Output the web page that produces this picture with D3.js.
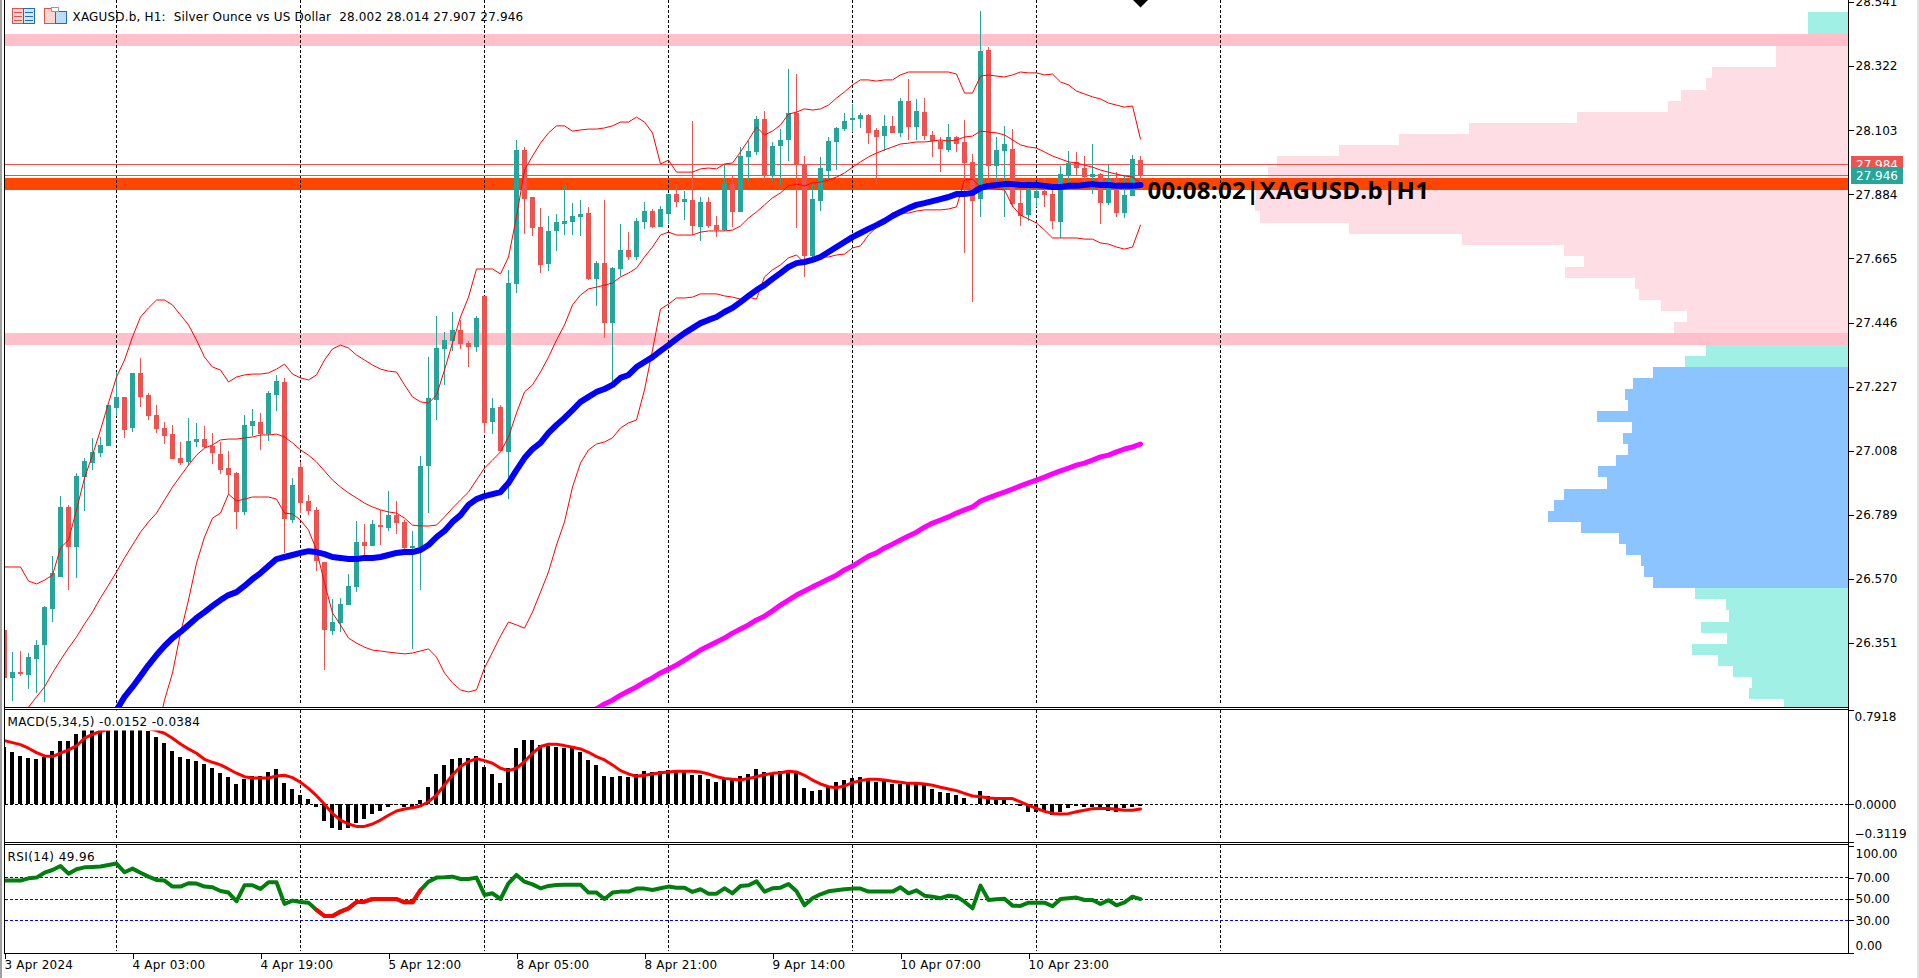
<!DOCTYPE html>
<html>
<head>
<meta charset="utf-8">
<script src="https://cdn.jsdelivr.net/npm/d3@7"></script>
<style>
  html, body { margin: 0; padding: 0; background: #fff; overflow: hidden; }
  svg { display: block; }
  text { font-family: "DejaVu Sans", sans-serif; font-size: 12px; fill: #000; }
  .axis path { display: none; }
  .axis line { stroke: #000; shape-rendering: crispEdges; }
</style>
</head>
<body>
<div id="chart"></div>
<script>
// candles, one entry per hour
const opens = [26.396,26.232,26.252,26.242,26.296,26.344,26.467,26.577,26.816,26.679,
  26.918,26.966,27.000,27.024,27.154,27.192,27.086,27.274,27.199,27.130,
  27.086,27.065,26.983,26.970,27.038,27.048,27.024,26.997,26.949,26.932,
  26.799,27.093,27.106,27.065,27.199,27.243,26.771,26.952,26.836,26.806,
  26.628,26.392,26.419,26.481,26.543,26.696,26.682,26.754,26.744,26.788,
  26.765,26.676,26.679,26.956,27.181,27.356,27.383,27.421,27.376,27.362,
  27.537,27.106,27.158,27.004,27.578,28.036,27.875,27.772,27.646,27.759,
  27.783,27.790,27.807,27.820,27.595,27.649,27.444,27.629,27.694,27.670,
  27.790,27.827,27.772,27.817,27.885,27.858,27.865,27.772,27.858,27.779,
  27.762,27.919,27.824,28.012,28.029,28.141,27.950,28.049,28.070,28.162,
  27.988,27.673,27.861,27.964,28.063,28.107,28.138,28.141,28.155,28.104,
  28.083,28.118,28.094,28.203,28.114,28.165,28.087,28.066,28.036,28.080,
  28.063,27.995,27.868,28.377,27.981,28.032,28.039,27.854,27.813,27.871,
  27.895,27.885,27.790,27.947,27.995,27.974,27.943,27.953,27.854,27.936,
  27.820,27.878,28.002];
const highs = [26.396,26.320,26.324,26.317,26.361,26.478,26.648,26.853,26.823,26.932,
  26.983,27.052,27.055,27.164,27.277,27.192,27.274,27.325,27.206,27.164,
  27.106,27.096,27.038,27.120,27.103,27.093,27.069,27.038,27.007,26.935,
  27.130,27.151,27.137,27.212,27.267,27.257,26.915,26.970,26.857,26.816,
  26.628,26.501,26.505,26.587,26.768,26.758,26.771,26.806,26.870,26.836,
  26.771,26.734,26.990,27.328,27.469,27.414,27.482,27.455,27.383,27.468,
  27.537,27.188,27.164,27.626,28.070,28.046,27.875,27.837,27.810,27.817,
  27.916,27.854,27.865,27.841,27.656,27.865,27.636,27.783,27.755,27.803,
  27.858,27.834,27.844,27.885,27.919,27.895,28.135,27.875,27.875,27.810,
  27.984,27.947,28.046,28.066,28.152,28.169,28.063,28.107,28.312,28.295,
  28.015,27.923,28.012,28.080,28.114,28.162,28.193,28.162,28.158,28.111,
  28.155,28.152,28.213,28.278,28.210,28.213,28.100,28.080,28.124,28.083,
  28.138,28.022,28.510,28.387,28.080,28.118,28.107,27.899,27.919,27.919,
  27.940,27.916,27.981,28.032,28.029,28.015,28.056,27.957,27.984,27.960,
  27.947,28.018,28.014];
const lows = [26.232,26.153,26.238,26.194,26.180,26.150,26.423,26.577,26.532,26.573,
  26.802,26.942,26.987,27.024,27.127,27.052,27.072,27.158,27.113,27.069,
  27.031,26.980,26.959,26.956,27.021,27.017,26.963,26.929,26.860,26.741,
  26.788,27.058,27.011,27.041,27.144,26.659,26.761,26.795,26.788,26.597,
  26.259,26.378,26.389,26.481,26.526,26.648,26.682,26.686,26.734,26.724,
  26.666,26.331,26.532,26.795,27.113,27.233,27.349,27.356,27.294,27.345,
  27.069,27.065,27.007,26.843,27.547,27.749,27.742,27.615,27.622,27.690,
  27.745,27.745,27.742,27.591,27.503,27.393,27.240,27.605,27.660,27.660,
  27.766,27.769,27.772,27.783,27.841,27.796,27.745,27.725,27.769,27.738,
  27.759,27.772,27.824,27.926,28.018,27.930,27.930,27.916,27.998,27.769,
  27.602,27.667,27.827,27.933,27.967,28.100,28.097,28.111,28.056,27.919,
  28.032,28.094,28.080,28.070,28.070,28.070,28.012,27.960,28.029,28.029,
  27.684,27.516,27.807,27.916,27.919,27.807,27.841,27.776,27.793,27.841,
  27.841,27.766,27.735,27.919,27.950,27.926,27.885,27.783,27.848,27.807,
  27.803,27.878,27.907];
const closes = [26.232,26.252,26.245,26.303,26.344,26.474,26.590,26.816,26.679,26.922,
  26.973,27.004,27.028,27.164,27.192,27.079,27.274,27.192,27.127,27.082,
  27.058,26.980,26.966,27.041,27.048,27.021,27.000,26.942,26.925,26.799,
  27.096,27.110,27.065,27.206,27.246,26.775,26.891,26.829,26.802,26.631,
  26.396,26.423,26.484,26.546,26.696,26.682,26.758,26.747,26.788,26.761,
  26.676,26.682,26.956,27.188,27.359,27.386,27.421,27.373,27.362,27.462,
  27.103,27.154,27.007,27.581,28.036,27.868,27.769,27.643,27.759,27.790,
  27.793,27.810,27.817,27.595,27.649,27.444,27.632,27.694,27.670,27.793,
  27.827,27.772,27.834,27.885,27.858,27.868,27.776,27.858,27.776,27.762,
  27.919,27.824,28.015,28.032,28.141,27.950,28.049,28.070,28.162,27.988,
  27.673,27.868,27.974,28.066,28.111,28.135,28.145,28.155,28.094,28.080,
  28.118,28.094,28.203,28.114,28.169,28.083,28.066,28.039,28.080,28.056,
  27.991,27.861,28.374,27.981,28.036,28.056,27.851,27.810,27.902,27.895,
  27.882,27.793,27.953,27.991,27.974,27.943,27.953,27.854,27.933,27.820,
  27.882,28.005,27.946];

// bollinger bands, the first value of each belongs to the bar in *Start
const bbUpper = [26.611,26.611,26.611,26.563,26.553,26.566,26.583,26.676,26.703,26.806,
  26.915,26.993,27.079,27.171,27.260,27.318,27.397,27.465,27.496,27.523,
  27.523,27.506,27.472,27.438,27.386,27.328,27.294,27.284,27.243,27.260,
  27.267,27.270,27.270,27.274,27.287,27.304,27.270,27.257,27.250,27.267,
  27.318,27.356,27.369,27.359,27.335,27.318,27.301,27.287,27.280,27.277,
  27.233,27.192,27.175,27.171,27.198,27.284,27.376,27.465,27.533,27.629,
  27.629,27.629,27.612,27.670,27.807,27.967,28.015,28.059,28.094,28.118,
  28.118,28.100,28.104,28.107,28.107,28.111,28.118,28.131,28.131,28.148,
  28.131,28.094,27.988,28.001,27.960,27.960,27.960,27.971,27.974,27.971,
  27.988,27.991,28.029,28.070,28.114,28.087,28.100,28.121,28.158,28.165,
  28.176,28.172,28.176,28.189,28.213,28.234,28.258,28.275,28.275,28.271,
  28.275,28.275,28.292,28.302,28.302,28.302,28.302,28.302,28.302,28.295,
  28.230,28.230,28.288,28.292,28.288,28.285,28.292,28.302,28.299,28.299,
  28.292,28.295,28.268,28.258,28.237,28.227,28.217,28.210,28.196,28.189,
  28.182,28.186,28.073];
const bbMidStart = 2;
const bbMid = [26.088,26.132,26.167,26.201,26.249,26.293,26.334,26.372,
  26.416,26.457,26.505,26.549,26.594,26.642,26.686,26.730,26.765,26.795,
  26.840,26.884,26.922,26.959,26.993,27.017,27.028,27.045,27.048,27.048,
  27.052,27.055,27.062,27.062,27.065,27.055,27.035,27.011,26.993,26.970,
  26.939,26.908,26.884,26.864,26.847,26.829,26.816,26.806,26.799,26.795,
  26.778,26.754,26.751,26.751,26.754,26.782,26.812,26.840,26.867,26.908,
  26.949,26.976,27.004,27.055,27.137,27.209,27.233,27.277,27.328,27.386,
  27.438,27.506,27.540,27.561,27.567,27.574,27.581,27.602,27.615,27.632,
  27.670,27.704,27.745,27.755,27.745,27.745,27.745,27.755,27.759,27.759,
  27.759,27.762,27.776,27.803,27.824,27.848,27.872,27.889,27.913,27.919,
  27.913,27.923,27.926,27.933,27.943,27.957,27.977,27.995,28.012,28.025,
  28.036,28.046,28.056,28.059,28.063,28.063,28.066,28.070,28.066,28.070,
  28.080,28.083,28.100,28.097,28.094,28.087,28.070,28.053,28.046,28.042,
  28.029,28.015,28.005,27.995,27.991,27.984,27.977,27.967,27.960,27.953,
  27.947,27.943,27.923];
const bbLowerStart = 19;
const bbLower = [26.037,
  26.156,26.249,26.385,26.498,26.624,26.713,26.778,26.795,26.860,26.836,
  26.843,26.850,26.850,26.850,26.843,26.795,26.792,26.771,26.737,26.669,
  26.556,26.454,26.413,26.368,26.351,26.337,26.327,26.324,26.320,26.317,
  26.314,26.317,26.324,26.331,26.303,26.249,26.215,26.191,26.184,26.191,
  26.266,26.320,26.375,26.423,26.413,26.402,26.457,26.525,26.594,26.686,
  26.765,26.884,26.966,27.011,27.031,27.038,27.052,27.086,27.103,27.113,
  27.216,27.352,27.492,27.509,27.530,27.530,27.533,27.544,27.544,27.544,
  27.537,27.533,27.526,27.533,27.526,27.602,27.626,27.643,27.667,27.677,
  27.649,27.660,27.670,27.670,27.677,27.680,27.701,27.708,27.745,27.772,
  27.796,27.820,27.820,27.820,27.827,27.831,27.831,27.831,27.834,27.841,
  27.933,27.936,27.909,27.906,27.902,27.899,27.844,27.813,27.800,27.786,
  27.762,27.735,27.735,27.735,27.735,27.731,27.731,27.718,27.714,27.704,
  27.697,27.704,27.779];

// fast average (blue) and slow average (magenta)
const fastMaStart = 13;
const fastMa = [26.074,26.122,26.167,26.201,26.238,26.276,26.310,
  26.341,26.368,26.389,26.413,26.437,26.457,26.478,26.498,26.515,26.525,
  26.546,26.570,26.590,26.614,26.638,26.645,26.652,26.659,26.665,26.662,
  26.655,26.645,26.642,26.638,26.638,26.642,26.642,26.645,26.652,26.659,
  26.662,26.662,26.669,26.686,26.713,26.734,26.765,26.788,26.823,26.843,
  26.853,26.860,26.867,26.898,26.942,26.983,27.014,27.035,27.069,27.096,
  27.120,27.147,27.175,27.192,27.209,27.219,27.233,27.257,27.267,27.294,
  27.311,27.328,27.349,27.369,27.390,27.410,27.427,27.444,27.455,27.465,
  27.482,27.496,27.516,27.537,27.557,27.574,27.595,27.615,27.636,27.649,
  27.653,27.660,27.670,27.687,27.704,27.721,27.738,27.752,27.766,27.779,
  27.793,27.810,27.824,27.837,27.848,27.854,27.861,27.868,27.875,27.885,
  27.885,27.889,27.906,27.913,27.916,27.919,27.919,27.916,27.916,27.916,
  27.913,27.909,27.909,27.913,27.913,27.916,27.919,27.916,27.916,27.913,
  27.913,27.913,27.916];
const slowMaStart = 74;
const slowMa = [26.126,26.143,26.156,26.173,26.187,26.201,
  26.218,26.232,26.249,26.262,26.276,26.293,26.310,26.327,26.341,26.355,
  26.368,26.385,26.399,26.413,26.430,26.443,26.461,26.481,26.498,26.515,
  26.529,26.543,26.556,26.570,26.583,26.601,26.614,26.631,26.648,26.659,
  26.676,26.689,26.703,26.717,26.730,26.747,26.761,26.771,26.782,26.795,
  26.806,26.816,26.836,26.847,26.857,26.867,26.877,26.888,26.898,26.908,
  26.918,26.929,26.939,26.949,26.959,26.966,26.976,26.987,26.993,27.004,
  27.014,27.021,27.031];

// macd pane
const macdHist = [.485,.443,.406,.389,.384,.40,.448,.532,.532,.591,
  .63,.65,.66,.67,.67,.67,.66,.65,.616,.569,
  .518,.448,.40,.384,.364,.342,.305,.266,.23,.171,
  .21,.238,.238,.272,.297,.182,.129,.078,.045,-.025,
  -.137,-.196,-.216,-.202,-.16,-.12,-.081,-.056,-.02,-.008,
  -.025,-.034,.036,.146,.255,.33,.381,.389,.387,.406,
  .314,.255,.182,.305,.473,.541,.541,.501,.49,.482,
  .476,.471,.443,.373,.33,
  .238,.23,.238,.232,.255,.28,.272,.28,.286,.286,
  .28,.246,.246,.213,.188,.213,.213,.238,.255,.297,
  .272,.266,.28,.28,.26,.137,.115,.12,.154,.188,
  .204,.221,.23,.21,.188,.196,.171,.171,.171,.171,
  .162,.129,.104,.095,.078,.053,.003,.112,.07,.053,
  .045,.003,-.014,-.064,-.064,-.064,-.09,-.064,-.034,-.014,
  -.02,-.02,-.025,-.053,-.062,-.034,-.025,-.0152];
const macdSignal = [.535,.518,.501,.471,.434,.406,.401,.429,.457,.49,
  .555,.588,.611,.63,.647,.653,.653,.644,.636,.619,
  .597,.555,.507,.465,.429,.378,.353,.331,.297,.261,
  .232,.221,.221,.221,.238,.244,.224,.185,.134,.073,
  0,-.076,-.132,-.165,-.185,-.185,-.165,-.132,-.092,-.056,
  -.039,-.028,-.014,.022,.078,.162,.246,.317,.359,.384,
  .367,.345,.303,.283,.303,.359,.429,.485,.504,.504,
  .493,.479,.465,.437,.401,
  .373,.331,.283,.255,.235,.244,.255,.266,.272,.277,
  .277,.277,.272,.255,.232,.218,.21,.204,.218,.232,
  .249,.26,.266,.277,.272,.244,.204,.171,.148,.14,
  .154,.182,.199,.21,.21,.204,.193,.185,.176,.176,
  .171,.16,.143,.129,.115,.092,.07,.064,.053,.05,
  .048,.048,.02,-.008,-.034,-.059,-.076,-.081,-.078,-.062,
  -.05,-.036,-.034,-.034,-.042,-.05,-.05,-.0384];

// rsi pane, bars rsiRedFrom to rsiRedTo are drawn red
const rsiValues = [67.2,67.2,67.2,69.3,70,74.6,77.1,80.9,73.7,77.8,
  79.6,79.9,80.3,81.8,83.1,75,78.4,74.6,70.9,67.8,
  67.2,61.6,61.6,64.7,64.4,61.6,61,57.5,56,47.9,
  62.8,62.8,59.4,65.6,65.6,45.4,48.5,47.2,46.6,39.8,
  34.1,34.1,38.2,41.3,47.2,47.5,50,50,50,50,
  46.9,46.9,58.4,66.2,70,70.3,70.9,68.7,68.7,70,
  53.8,55.3,50,64.7,72.5,66.2,63.7,60,62.2,63.1,
  63.4,63.4,63.4,56,56,
  50,56,56.9,56.9,59.7,59.7,58.4,60,61.6,60.6,
  60.6,56.6,59.1,55,55,60,55.3,62.2,62.8,66.5,
  56.9,60,60.6,64,57.2,44.1,50.7,54.4,57.2,58.1,
  59.1,59.7,59.7,56.9,56.9,56.9,56.9,60.9,55.3,58.1,
  53.1,52.2,50.7,53.1,52.2,47.5,41.3,62.5,49.1,49.7,
  50.3,43.8,43.5,46.6,46.6,46.6,43.2,50,50.7,51.3,
  49.1,49.1,45.4,48.8,44.1,46.9,52.2,49.96];
const rsiRedFrom = 39;
const rsiRedTo = 52;
const rsiLevels = [70, 50, 30];

// horizontal zones and price lines
const zonePink = [[28.432, 28.391], [27.410, 27.369]];
const zoneOrange = [27.940, 27.899];
const askPrice = 27.984;
const bidPrice = 27.946;
const signalPrice = 28.548;
const signalBar = 142;

// volume profile at the right side, one row per price bin
const profileTop = 28.507;
const profileStep = 0.03786;
const profileVolume = [40,40,40,72,72,136,142,167,180,271,379,449,509,571,580,590,592,593,588,499,
  386,284,264,283,213,209,187,161,174,170,142,163,
  195,215,223,220,251,216,225,220,232,250,241,284,294,300,267,229,222,207,204,195,
  153,122,119,147,121,156,130,115,96,99,64];
const profileKind = ["t","t","t","p","p","p","p","p","p","p","p","p","p","p","p","p","p","p","p","p",
  "p","p","p","p","p","p","p","p","p","p","t","t",
  "b","b","b","b","b","b","b","b","b","b","b","b","b","b","b","b","b","b","b","b",
  "t","t","t","t","t","t","t","t","t","t","t"];

// axes
const priceTicks = [28.541,28.322,28.103,27.884,27.665,27.446,27.227,27.008,26.789,26.570,26.351];
const macdTicks = [0.7918, 0, -0.3119];
const rsiTicks = [100, 70, 50, 30, 0];
const timeTicks = [0, 16, 32, 48, 64, 80, 96, 112, 128];
const timeLabels = ["3 Apr 2024","4 Apr 03:00","4 Apr 19:00","5 Apr 12:00","8 Apr 05:00",
  "8 Apr 21:00","9 Apr 14:00","10 Apr 07:00","10 Apr 23:00"];
const periodBars = [14, 37, 60, 83, 106, 129, 152];

const colors = {
  up: "#26a69a", down: "#ef5350", band: "#ff0000", fast: "#0000ff", slow: "#ff00ff",
  zone: "#ffc0cb", orange: "#ff4500", t: "#a0f0e6", p: "#ffdde4", b: "#8cc4ff",
  hist: "#000000", signal: "#ff0000", rsi: "#007f0e", level: "#0000ff"
};

const width = 1919;
const height = 978;
const paneLeft = 4.5;
const paneRight = 1848.5;
const main = {top: 0, bottom: 707.5};
const macd = {top: 709.5, bottom: 842.5};
const rsi = {top: 844.5, bottom: 953.5};

const svg = d3.select("#chart").append("svg")
    .attr("width", width)
    .attr("height", height);

// de schalen
const x = d3.scaleLinear().domain([0, 230.5]).range([paneLeft, paneRight]);
const yPrice = d3.scaleLinear().domain([26.1326, 28.548]).range([707, 0]);
const yMacd = d3.scaleLinear().domain([-0.3119, 0.7918]).range([841.5, 710]);
const yRsi = d3.scaleLinear().domain([0, 100]).range([952.5, 845.5]);
const xVolume = d3.scaleLinear().domain([0, 600]).range([1848, 1248]);

const defs = svg.append("defs");
function addClip(id, pane) {
  defs.append("clipPath").attr("id", id).append("rect")
      .attr("x", paneLeft).attr("y", pane.top)
      .attr("width", paneRight - paneLeft).attr("height", pane.bottom - pane.top);
}
addClip("clipMain", main);
addClip("clipMacd", macd);
addClip("clipRsi", rsi);

const gMain = svg.append("g").attr("clip-path", "url(#clipMain)");
const gMacd = svg.append("g").attr("clip-path", "url(#clipMacd)");
const gRsi = svg.append("g").attr("clip-path", "url(#clipRsi)");

// volume profile
gMain.append("g").attr("shape-rendering", "crispEdges")
  .selectAll("rect").data(profileVolume).join("rect")
    .attr("x", d => xVolume(d))
    .attr("y", (d, i) => yPrice(profileTop - i * profileStep))
    .attr("width", d => xVolume(0) - xVolume(d))
    .attr("height", yPrice(0) - yPrice(profileStep))
    .attr("fill", (d, i) => colors[profileKind[i]]);

// zones
gMain.append("g").attr("shape-rendering", "crispEdges")
  .selectAll("rect").data(zonePink).join("rect")
    .attr("x", paneLeft)
    .attr("y", d => yPrice(d[0]))
    .attr("width", paneRight - paneLeft)
    .attr("height", d => yPrice(d[1]) - yPrice(d[0]))
    .attr("fill", colors.zone);
gMain.append("rect")
    .attr("shape-rendering", "crispEdges")
    .attr("x", paneLeft)
    .attr("y", yPrice(zoneOrange[0]))
    .attr("width", paneRight - paneLeft)
    .attr("height", yPrice(zoneOrange[1]) - yPrice(zoneOrange[0]))
    .attr("fill", colors.orange);

// period separators
function drawSeparators(g, pane) {
  g.append("g").selectAll("line").data(periodBars).join("line")
      .attr("x1", d => x(d)).attr("x2", d => x(d))
      .attr("y1", pane.top).attr("y2", pane.bottom - 3)
      .attr("stroke", "#000")
      .attr("stroke-dasharray", "3,2")
      .attr("shape-rendering", "crispEdges");
}
drawSeparators(gMain, main);
drawSeparators(gMacd, macd);
drawSeparators(gRsi, rsi);

// ask and bid lines
gMain.append("g").selectAll("line")
  .data([[askPrice, colors.down], [bidPrice, colors.up]]).join("line")
    .attr("x1", paneLeft).attr("x2", paneRight)
    .attr("y1", d => Math.floor(yPrice(d[0])) - 0.5)
    .attr("y2", d => Math.floor(yPrice(d[0])) - 0.5)
    .attr("stroke", d => d[1])
    .attr("shape-rendering", "crispEdges");

// candles
const candles = gMain.append("g").attr("shape-rendering", "crispEdges")
  .selectAll("g").data(opens).join("g")
    .attr("fill", (d, i) => closes[i] >= d ? colors.up : colors.down);
candles.append("rect")
    .attr("x", (d, i) => x(i) - 0.5)
    .attr("y", (d, i) => yPrice(highs[i]))
    .attr("width", 1)
    .attr("height", (d, i) => yPrice(lows[i]) - yPrice(highs[i]));
candles.append("rect")
    .attr("x", (d, i) => x(i) - 2.5)
    .attr("y", (d, i) => yPrice(Math.max(d, closes[i])))
    .attr("width", 5)
    .attr("height", (d, i) => Math.max(2, Math.abs(yPrice(d) - yPrice(closes[i]))));

// lines over the candles
function drawLine(g, values, start, yScale, color, lineWidth) {
  const line = d3.line()
      .x((d, i) => x(i + start))
      .y(d => yScale(d));
  g.append("path")
      .attr("d", line(values))
      .attr("fill", "none")
      .attr("stroke", color)
      .attr("stroke-width", lineWidth)
      .attr("stroke-linecap", "round")
      .attr("stroke-linejoin", "round");
}
drawLine(gMain, bbUpper, 0, yPrice, colors.band, 1);
drawLine(gMain, bbMid, bbMidStart, yPrice, colors.band, 1);
drawLine(gMain, bbLower, bbLowerStart, yPrice, colors.band, 1);
drawLine(gMain, fastMa, fastMaStart, yPrice, colors.fast, 6);
drawLine(gMain, slowMa, slowMaStart, yPrice, colors.slow, 5);

// signal arrow at the top edge
gMain.append("path")
    .attr("d", d3.symbol(d3.symbolSquare, 112)())
    .attr("transform", "translate(" + x(signalBar) + "," + yPrice(signalPrice) + ") rotate(45)")
    .attr("fill", "#000");

// macd
gMacd.append("g").attr("shape-rendering", "crispEdges")
  .selectAll("rect").data(macdHist).join("rect")
    .attr("x", (d, i) => x(i) - 2.5)
    .attr("y", d => Math.min(yMacd(d), yMacd(0)))
    .attr("width", 4)
    .attr("height", d => Math.abs(yMacd(d) - yMacd(0)))
    .attr("fill", colors.hist);
gMacd.append("line")
    .attr("x1", paneLeft).attr("x2", paneRight)
    .attr("y1", Math.floor(yMacd(0)) + 0.5).attr("y2", Math.floor(yMacd(0)) + 0.5)
    .attr("stroke", "#000")
    .attr("stroke-dasharray", "3,2")
    .attr("shape-rendering", "crispEdges");
drawLine(gMacd, macdSignal, 0, yMacd, colors.signal, 3);
gMacd.append("rect")
    .attr("x", paneLeft + 1).attr("y", macd.top + 1)
    .attr("width", 200).attr("height", 20)
    .attr("fill", "#fff");

// rsi
gRsi.append("g").selectAll("line").data(rsiLevels).join("line")
    .attr("x1", paneLeft).attr("x2", paneRight)
    .attr("y1", d => Math.floor(yRsi(d)) + 0.5).attr("y2", d => Math.floor(yRsi(d)) + 0.5)
    .attr("stroke", colors.level)
    .attr("stroke-dasharray", "3,2")
    .attr("shape-rendering", "crispEdges");
drawLine(gRsi, rsiValues, 0, yRsi, colors.rsi, 4);
drawLine(gRsi, rsiValues.slice(rsiRedFrom, rsiRedTo + 1), rsiRedFrom, yRsi, colors.signal, 4);

// pane borders
const borders = svg.append("g").attr("stroke", "#000").attr("shape-rendering", "crispEdges");
[main.bottom, macd.top, macd.bottom, rsi.top, rsi.bottom].forEach(function(y) {
  borders.append("line").attr("x1", paneLeft).attr("x2", paneRight).attr("y1", y).attr("y2", y);
});
borders.append("line").attr("x1", paneLeft).attr("x2", paneLeft).attr("y1", 0).attr("y2", rsi.bottom);
borders.append("line").attr("x1", paneRight).attr("x2", paneRight).attr("y1", 0).attr("y2", rsi.bottom);

// window edges
svg.append("rect").attr("x", 0).attr("y", 0).attr("width", 2).attr("height", height).attr("fill", "#a0a0a0");
svg.append("rect").attr("x", 1917).attr("y", 0).attr("width", 2).attr("height", height).attr("fill", "#e3e3e3");

// de assen
svg.append("g")
    .attr("class", "axis")
    .attr("transform", "translate(" + paneRight + ",0)")
    .call(d3.axisRight(yPrice).tickValues(priceTicks).tickSize(5).tickPadding(2).tickFormat(d3.format(".3f")));
const macdAxis = svg.append("g")
    .attr("class", "axis")
    .attr("transform", "translate(" + paneRight + ",0)")
    .call(d3.axisRight(yMacd).tickValues(macdTicks).tickSize(5).tickPadding(1).tickFormat(d3.format(".4f")));
macdAxis.selectAll("text").attr("dy", d => d > 0.5 ? "0.9em" : (d < 0 ? "-0.35em" : "0.32em"));
const rsiAxis = svg.append("g")
    .attr("class", "axis")
    .attr("transform", "translate(" + paneRight + ",0)")
    .call(d3.axisRight(yRsi).tickValues(rsiTicks).tickSize(5).tickPadding(2).tickFormat(d3.format(".2f")));
rsiAxis.selectAll("text").attr("dy", d => d == 100 ? "1.0em" : (d == 0 ? "-0.25em" : "0.32em"));

const timeAxis = svg.append("g")
    .attr("class", "axis")
    .attr("transform", "translate(0," + rsi.bottom + ")")
    .call(d3.axisBottom(x).tickValues(timeTicks).tickSize(5).tickPadding(2)
      .tickFormat((d, i) => timeLabels[i]));
timeAxis.selectAll("text")
    .attr("text-anchor", "start")
    .attr("dx", -0.5)
    .style("letter-spacing", "0.2px");

// price tags
[[askPrice, colors.down], [bidPrice, colors.up]].forEach(function(tag) {
  const y = Math.round(yPrice(tag[0])) - 1;
  svg.append("rect").attr("x", 1851).attr("y", y - 8).attr("width", 52).attr("height", 17).attr("fill", tag[1]);
  svg.append("text").attr("x", 1856).attr("y", y + 5).style("fill", "#fff").text(d3.format(".3f")(tag[0]));
});

// labels
svg.append("text").attr("x", 72.5).attr("y", 20.5).attr("xml:space", "preserve")
    .style("letter-spacing", "0.18px")
    .text("XAGUSD.b, H1:  Silver Ounce vs US Dollar  28.002 28.014 27.907 27.946");
svg.append("text").attr("x", 7.5).attr("y", 726)
    .style("letter-spacing", "0.32px")
    .text("MACD(5,34,5) -0.0152 -0.0384");
svg.append("text").attr("x", 7.5).attr("y", 861)
    .style("letter-spacing", "0.4px")
    .text("RSI(14) 49.96");
svg.append("text").attr("x", 1147.5).attr("y", 199)
    .style("font-family", "'Open Sans', sans-serif")
    .style("font-size", "24px")
    .style("font-weight", "bold")
    .style("letter-spacing", "0.3px")
    .text("00:08:02|XAGUSD.b|H1");

// toolbar icons
const icons = svg.append("g").attr("shape-rendering", "crispEdges").attr("fill", "none");
icons.append("rect").attr("x", 12.5).attr("y", 8.5).attr("width", 11).attr("height", 15).attr("fill", "#fbd5d0").attr("stroke", "#d9534f");
icons.append("rect").attr("x", 23.5).attr("y", 8.5).attr("width", 11).attr("height", 15).attr("fill", "#cfe6fb").attr("stroke", "#1f6fb2");
[12, 16, 20].forEach(function(y) {
  icons.append("line").attr("x1", 14).attr("x2", 22).attr("y1", y + 0.5).attr("y2", y + 0.5).attr("stroke", "#d9534f");
  icons.append("line").attr("x1", 25).attr("x2", 33).attr("y1", y + 0.5).attr("y2", y + 0.5).attr("stroke", "#1f6fb2");
});
icons.append("rect").attr("x", 44.5).attr("y", 8.5).attr("width", 11).attr("height", 15).attr("fill", "#fbd5d0").attr("stroke", "#d9534f");
icons.append("rect").attr("x", 55.5).attr("y", 11.5).attr("width", 11).attr("height", 12).attr("fill", "#bcdcf8").attr("stroke", "#1f6fb2");
icons.append("rect").attr("x", 51.5).attr("y", 7.5).attr("width", 7).attr("height", 4).attr("fill", "#fff").attr("stroke", "#999");
</script>
</body>
</html>
